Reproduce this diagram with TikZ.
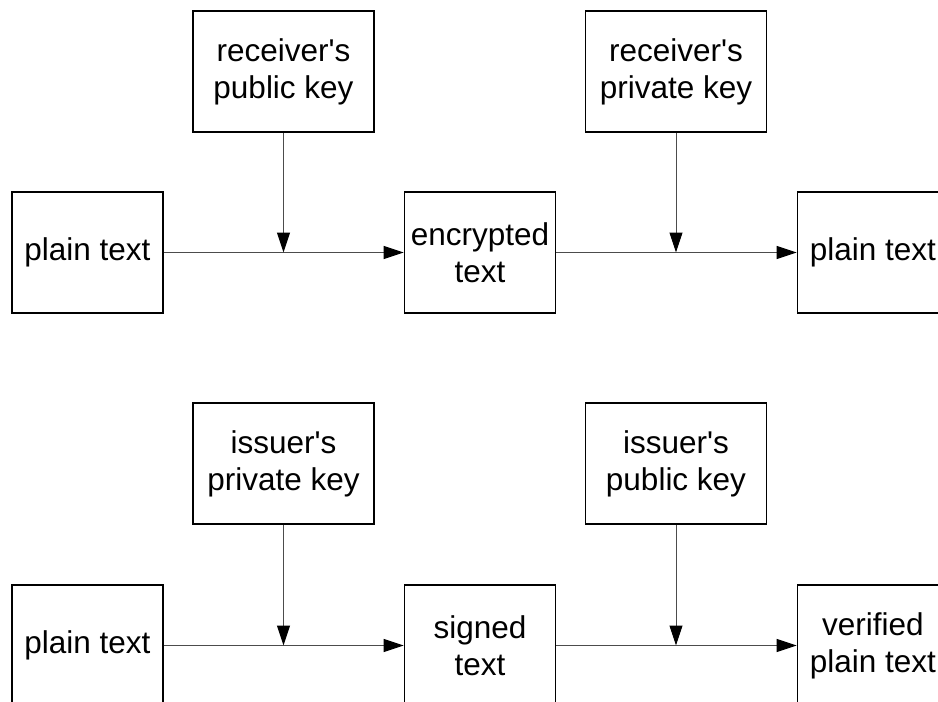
\documentclass[tikz,border=0pt]{standalone}
\usepackage{fontspec}
\newfontfamily\arialfont{Liberation Sans}
\usetikzlibrary{arrows.meta}
\begin{document}
\begin{tikzpicture}[x=1pt,y=-1pt,
  box/.style={draw=black,line width=1.6pt,rectangle,inner sep=0pt,align=center,
    font=\arialfont\fontsize{31.5}{37}\selectfont},
  keybox/.style={box,minimum width=181pt,minimum height=121pt},
  txtbox/.style={box,minimum width=151pt,minimum height=121pt},
  conn/.style={draw=black!70,line width=1pt},
  arr/.style={conn,-{Triangle[length=20pt,width=13pt,fill=black,color=black]}}]
\useasboundingbox (0,0) rectangle (938,702);
\clip (0,0) rectangle (938,702);
% top row
\node[txtbox] (p1) at (87.5,252.5) {plain text};
\node[keybox] (k1) at (283.5,71.5) {receiver's\\public key};
\node[txtbox] (e1) at (480,252.5) {encrypted\\text};
\node[keybox] (k2) at (676,71.5) {receiver's\\private key};
\node[txtbox] (r1) at (873,252.5) {plain text};
\coordinate (m1) at (k1.south |- p1.east);
\coordinate (m2) at (k2.south |- e1.east);
\draw[arr] (p1.east) -- (e1.west);
\draw[arr] (e1.east) -- (r1.west);
\draw[arr] (k1.south) -- (m1);
\draw[arr] (k2.south) -- (m2);
% bottom row
\node[txtbox] (p2) at (87.5,645.5) {plain text};
\node[keybox] (k3) at (283.5,463.5) {issuer's\\private key};
\node[txtbox] (s2) at (480,645.5) {signed\\text};
\node[keybox] (k4) at (676,463.5) {issuer's\\public key};
\node[txtbox] (v2) at (873,645.5) {verified\\plain text};
\coordinate (m3) at (k3.south |- p2.east);
\coordinate (m4) at (k4.south |- s2.east);
\draw[arr] (p2.east) -- (s2.west);
\draw[arr] (s2.east) -- (v2.west);
\draw[arr] (k3.south) -- (m3);
\draw[arr] (k4.south) -- (m4);
\end{tikzpicture}
\end{document}
